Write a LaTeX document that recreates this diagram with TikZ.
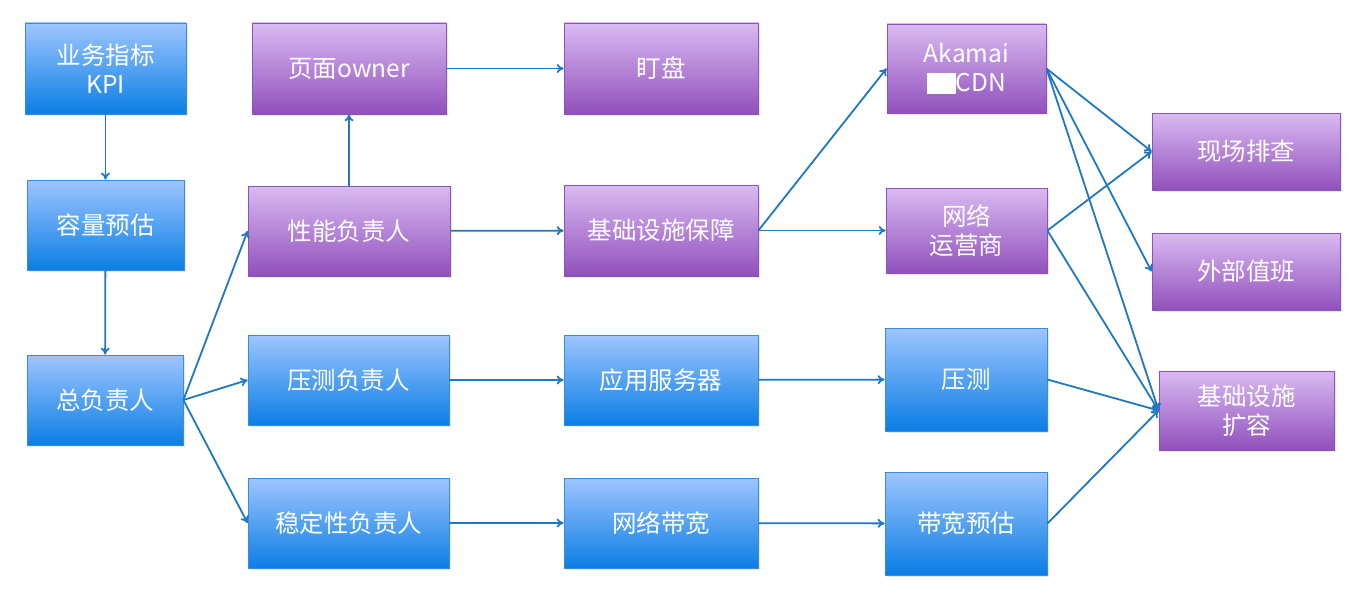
\documentclass[tikz,border=0pt]{standalone}
\usepackage{fontspec}
\setmainfont{Noto Sans CJK SC}
\usetikzlibrary{arrows.meta,shadows}
\definecolor{btop}{HTML}{9EC5FF}
\definecolor{bbot}{HTML}{0A7EE4}
\definecolor{bline}{HTML}{3A8CDC}
\definecolor{ptop}{HTML}{DABAF2}
\definecolor{pbot}{HTML}{9050BC}
\definecolor{pline}{HTML}{8E52BC}
\definecolor{arr}{HTML}{2077C2}
\tikzset{
  box/.style={text=white, font=\fontsize{24.5}{29}\selectfont, align=center, inner sep=0pt, line width=0.8pt,
    drop shadow={shadow xshift=2pt, shadow yshift=-2pt, opacity=0.18}},
  bluebox/.style={box, draw=bline, top color=btop, bottom color=bbot},
  purplebox/.style={box, draw=pline, top color=ptop, bottom color=pbot},
  sz/.style 2 args={minimum width=#1pt, minimum height=#2pt},
  conn/.style={draw=arr, line width=1.8pt, -{To[length=7pt,width=9pt]}}
}
\begin{document}
\begin{tikzpicture}[x=1pt,y=-1pt]
\useasboundingbox (0,0) rectangle (1366,602);
\node[bluebox, sz={161}{91}] (kpi) at (105.5,68.5) {业务指标\\KPI};
\node[bluebox, sz={157}{90}] (cap) at (105.5,225) {容量预估};
\node[bluebox, sz={156}{90}] (lead) at (105,400) {总负责人};
\node[purplebox, sz={194}{91}] (page) at (349,68.5) {页面owner};
\node[purplebox, sz={202}{90}] (perf) at (349,231) {性能负责人};
\node[bluebox, sz={201}{90}] (press) at (348.5,380) {压测负责人};
\node[bluebox, sz={201}{90}] (stab) at (348.5,523) {稳定性负责人};
\node[purplebox, sz={194}{91}] (watch) at (661,68.5) {盯盘};
\node[purplebox, sz={194}{91}] (infra) at (661,230.5) {基础设施保障};
\node[bluebox, sz={194}{90}] (app) at (661,380) {应用服务器};
\node[bluebox, sz={194}{90}] (net) at (661,523) {网络带宽};
\node[purplebox, sz={159}{89}] (cdn) at (966.5,68.5) {Akamai\\\textcolor{white}{\rule[-2pt]{29pt}{21pt}}CDN};
\node[purplebox, sz={161}{85}] (isp) at (966.5,230.5) {网络\\运营商};
\node[bluebox, sz={162}{103}] (ptest) at (966,379.5) {压测};
\node[bluebox, sz={162}{103}] (bwest) at (966,523.5) {带宽预估};
\node[purplebox, sz={188}{77}] (site) at (1246,151.5) {现场排查};
\node[purplebox, sz={188}{77}] (duty) at (1246,271.5) {外部值班};
\node[purplebox, sz={175}{79}] (expand) at (1246.5,410.5) {基础设施\\扩容};
\draw[conn] (kpi) -- (cap);
\draw[conn] (cap) -- (lead);
\draw[conn] (lead.east) -- (perf.west);
\draw[conn] (lead.east) -- (press.west);
\draw[conn] (lead.east) -- (stab.west);
\draw[conn] (perf) -- (page);
\draw[conn] (page) -- (watch);
\draw[conn] (perf) -- (infra);
\draw[conn] (press) -- (app);
\draw[conn] (stab) -- (net);
\draw[conn] (infra.east) -- (cdn.west);
\draw[conn] (infra.east) -- (isp.west);
\draw[conn] (app) -- (ptest);
\draw[conn] (net) -- (bwest);
\draw[conn] (cdn.east) -- (site.west);
\draw[conn] (cdn.east) -- (duty.west);
\draw[conn] (cdn.east) -- (expand.west);
\draw[conn] (isp.east) -- (site.west);
\draw[conn] (isp.east) -- (expand.west);
\draw[conn] (ptest.east) -- (expand.west);
\draw[conn] (bwest.east) -- (expand.west);
\end{tikzpicture}
\end{document}
